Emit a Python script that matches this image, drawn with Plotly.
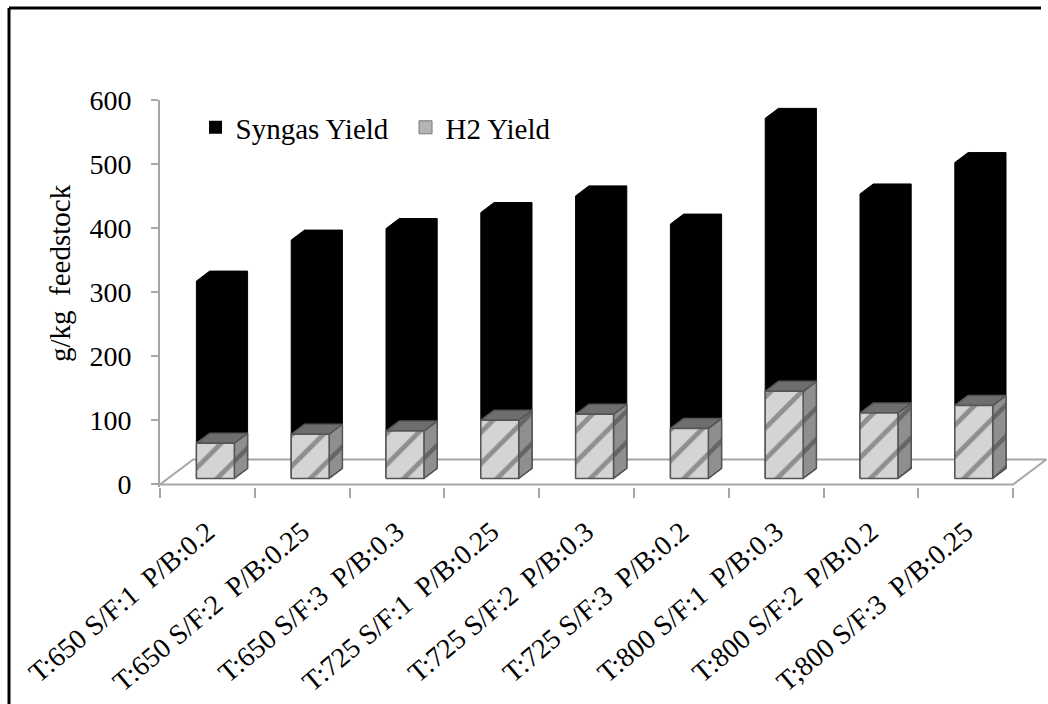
import plotly.graph_objects as go

# Gasification runs: temperature, steam/feed ratio, plastic/biomass ratio
categories = [
    "T:650 S/F:1\u00a0 P/B:0.2",
    "T:650 S/F:2\u00a0 P/B:0.25",
    "T:650 S/F:3\u00a0 P/B:0.3",
    "T:725 S/F:1\u00a0 P/B:0.25",
    "T:725 S/F:2\u00a0 P/B:0.3",
    "T:725 S/F:3\u00a0 P/B:0.2",
    "T:800 S/F:1\u00a0 P/B:0.3",
    "T:800 S/F:2\u00a0 P/B:0.2",
    "T;800 S/F:3\u00a0 P/B:0.25",
]
syngas_yield = [308, 372, 390, 415, 441, 397, 562, 444, 493]   # g/kg feedstock
h2_yield = [55, 69, 74, 91, 100, 78, 136, 102, 114]            # g/kg feedstock
y_ticks = [0, 100, 200, 300, 400, 500, 600]

# pseudo-3D projection (data units): full floor depth offset
DX, DY = 0.35, 39.0
D0, DEP = 0.24, 0.40        # bar front depth and bar depth as floor fractions
HW = 0.2                    # half bar width (category units)

SERIF = "Liberation Serif"
fig = go.Figure()

n = len(categories)
xl, xr = -0.5, n - 0.5
# floor outline
fig.add_trace(go.Scatter(
    x=[xl, xr, xr + DX, xl + DX, xl],
    y=[0, 0, DY, DY, 0],
    mode="lines", line=dict(color="#a6a6a6", width=2),
    hoverinfo="skip", showlegend=False))


def box(i, v):
    x0 = i - HW + D0 * DX
    x1 = i + HW + D0 * DX
    b = D0 * DY
    sx, sy = DEP * DX, DEP * DY
    front = ([x0, x0, x1, x1, x0], [b, b + v, b + v, b, b])
    side = ([x1, x1, x1 + sx, x1 + sx, x1], [b, b + v, b + v + sy, b + sy, b])
    top = ([x0, x0 + sx, x1 + sx, x1, x0], [b + v, b + v + sy, b + v + sy, b + v, b + v])
    outline = ([x0, x0, x0 + sx, x1 + sx, x1 + sx, x1, x0],
               [b, b + v, b + v + sy, b + v + sy, b + sy, b, b])
    return front, side, top, outline


for i in range(n):
    # syngas column (solid black body)
    _, _, _, sil = box(i, syngas_yield[i])
    fig.add_trace(go.Scatter(
        x=sil[0], y=sil[1], mode="lines", fill="toself",
        fillcolor="black", line=dict(color="black", width=1),
        hoverinfo="skip", showlegend=False))
    # H2 column (hatched grey box in front)
    f, s, t, _ = box(i, h2_yield[i])
    fig.add_trace(go.Scatter(
        x=s[0], y=s[1], mode="lines", fill="toself",
        fillcolor="#8a8a8a",
        fillpattern=dict(shape="/", bgcolor="#8f8f8f", fgcolor="#3c3c3c",
                         size=22, solidity=0.2),
        line=dict(color="#555555", width=1.5),
        hoverinfo="skip", showlegend=False))
    fig.add_trace(go.Scatter(
        x=t[0], y=t[1], mode="lines", fill="toself",
        fillcolor="#6e6e6e", line=dict(color="#555555", width=1.5),
        hoverinfo="skip", showlegend=False))
    fig.add_trace(go.Scatter(
        x=f[0], y=f[1], mode="lines", fill="toself",
        fillcolor="#d2d2d2",
        fillpattern=dict(shape="/", bgcolor="#d4d4d4", fgcolor="#4a4a4a",
                         size=22, solidity=0.22),
        line=dict(color="#555555", width=1.5),
        hoverinfo="skip", showlegend=False))

# legend entries
fig.add_trace(go.Scatter(
    x=[None], y=[None], mode="markers", name="Syngas Yield",
    marker=dict(symbol="square", size=13, color="black")))
fig.add_trace(go.Scatter(
    x=[None], y=[None], mode="markers", name="H2 Yield",
    marker=dict(symbol="square", size=13, color="#b4b4b4",
                line=dict(color="#777777", width=1))))

PX_PER_CAT = 94.8
L, R, T, B = 160, 0, 100, 217
plot_w = 1048 - L - R
fx = lambda px: (px - L) / plot_w
fy = lambda py: (704 - B - py) / (704 - T - B)

fig.update_layout(
    width=1048, height=704,
    margin=dict(l=L, r=R, t=T, b=B, autoexpand=False),
    paper_bgcolor="white", plot_bgcolor="white",
    font=dict(family=SERIF, size=28, color="black"),
    showlegend=True,
    legend=dict(orientation="h", x=0.04, y=0.995, xanchor="left", yanchor="top",
                font=dict(family=SERIF, size=29, color="black"),
                bgcolor="rgba(0,0,0,0)", itemwidth=30,
                entrywidth=165, entrywidthmode="pixels"),
    xaxis=dict(
        range=[xl, xl + plot_w / PX_PER_CAT],
        tickmode="array", tickvals=list(range(n)), ticktext=categories,
        tickangle=-40, ticks="", showgrid=False, zeroline=False, showline=False,
        ticklabelstandoff=22,
        tickfont=dict(family=SERIF, size=28, color="black"),
        minor=dict(tickmode="array", tickvals=[k - 0.5 for k in range(n + 1)],
                   ticks="outside", ticklen=10, tickcolor="#a6a6a6", tickwidth=2,
                   showgrid=False),
        fixedrange=True),
    yaxis=dict(
        range=[-4, 600], tickmode="array", tickvals=y_ticks,
        ticks="outside", ticklen=7, tickcolor="#a6a6a6", tickwidth=2,
        showline=True, linecolor="#a6a6a6", linewidth=2,
        showgrid=False, zeroline=False,
        tickfont=dict(family=SERIF, size=28, color="black"),
        ticklabelstandoff=14,
        fixedrange=True),
    annotations=[dict(
        text="g/kg\u00a0 feedstock", textangle=-90, showarrow=False,
        xref="paper", yref="paper", x=fx(60), y=fy(273),
        xanchor="center", yanchor="middle",
        font=dict(family=SERIF, size=29, color="black"))],
)

# outer frame of the figure
fig.add_shape(type="line", xref="paper", yref="paper",
              x0=fx(9), x1=fx(9), y0=fy(8), y1=fy(720),
              line=dict(color="black", width=3))
fig.add_shape(type="line", xref="paper", yref="paper",
              x0=fx(9), x1=fx(1041), y0=fy(8), y1=fy(8),
              line=dict(color="black", width=3))

fig.write_html("out.html")
